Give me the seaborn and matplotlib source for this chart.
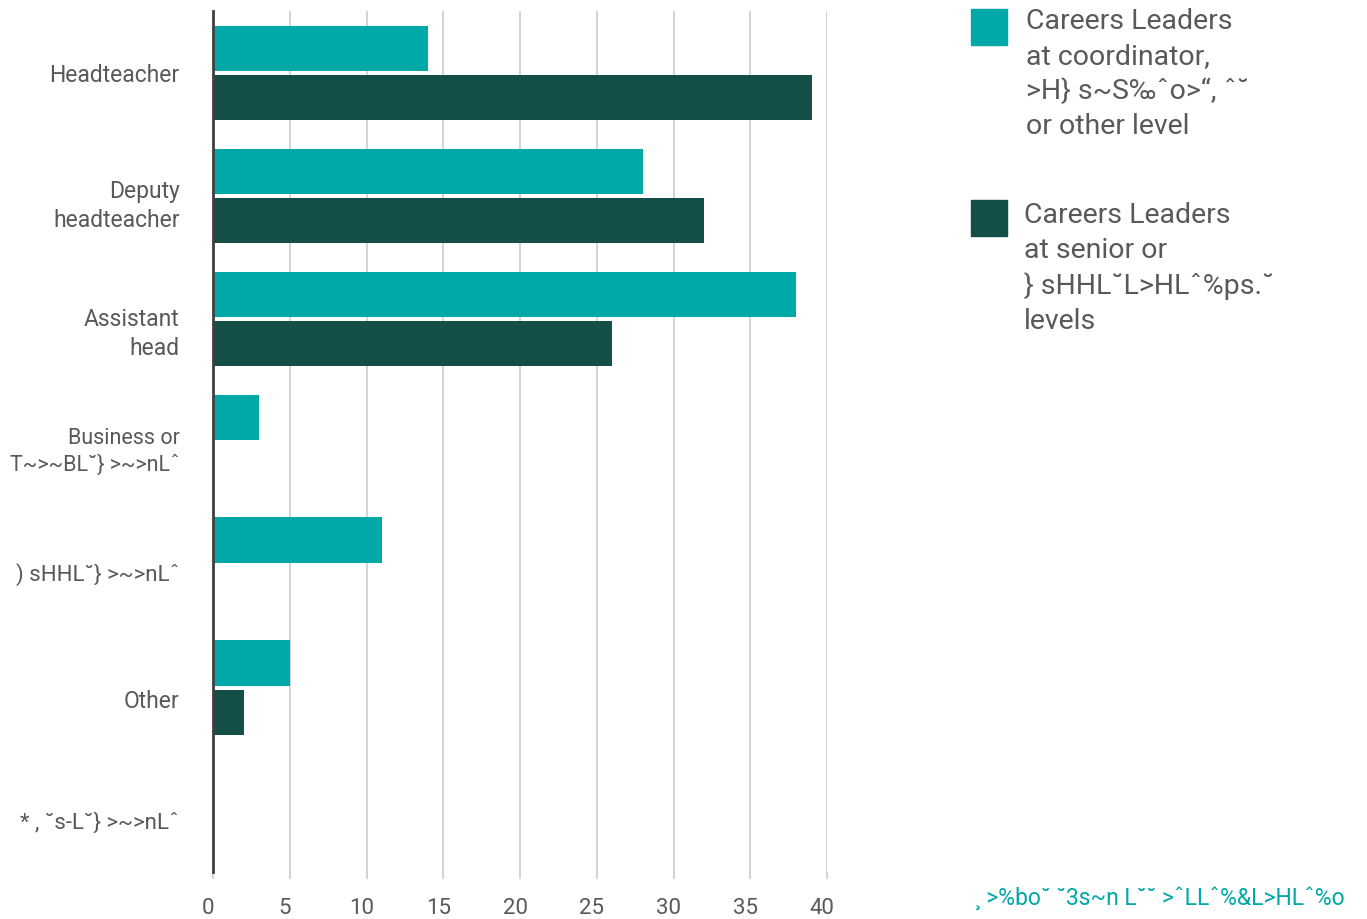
import matplotlib
matplotlib.use("Agg")
import matplotlib.pyplot as plt
from matplotlib.patches import Rectangle
from matplotlib.transforms import ScaledTranslation
import seaborn as sns
import pandas as pd

categories = ["Headteacher", "Deputy\nheadteacher", "Assistant\nhead",
              "Business or\nT~>~BL˘} >~>nLˆ", ") sHHL˘} >~>nLˆ", "Other",
              "* , ˘s-L˘} >~>nLˆ"]
series = ["Careers Leaders\nat coordinator,\n>H} s~S‰ˆo>“, ˆ˘\nor other level",
          "Careers Leaders\nat senior or\n} sHHL˘L>HLˆ%ps.˘\nlevels"]
coordinator_vals = [14, 28, 38, 3, 11, 5, 0]
senior_vals = [39, 32, 26, 0, 0, 2, 0]
xticks = [0, 5, 10, 15, 20, 25, 30, 35, 40]
footer = "¸ >%bo˘ ˘3s~n L˘˘ >ˆLLˆ%&L>HLˆ%o"

colors = ["#00A8A8", "#134F47"]
gray = "#595959"

df = pd.DataFrame({
    "category": categories * 2,
    "series": [series[0]] * len(categories) + [series[1]] * len(categories),
    "value": coordinator_vals + senior_vals,
})

sns.set_theme(style="white")
plt.rcParams["font.family"] = ["Roboto", "DejaVu Sans"]

fig = plt.figure(figsize=(13.67, 9.19), dpi=100)
ax = fig.add_axes([213 / 1367, 47 / 919, (827 - 213) / 1367, (872 - 11.5) / 919])

sns.barplot(data=df, y="category", x="value", hue="series", orient="h",
            order=categories, hue_order=series, palette=colors, saturation=1,
            width=0.8, gap=0.08, linewidth=0, legend=False, ax=ax)

ax.set_xlim(0, 40)
ax.set_ylim(6.5, -0.5)
ax.set_xticks(xticks)
ax.set_xticklabels([str(t) for t in xticks])
ax.set_xlabel("")
ax.set_ylabel("")
ax.xaxis.grid(True, color="#D0D0D0", linewidth=1.3)
ax.set_axisbelow(True)
for s in ["top", "right", "bottom"]:
    ax.spines[s].set_visible(False)
ax.spines["left"].set_color("#404040")
ax.spines["left"].set_linewidth(2)
ax.tick_params(axis="x", length=5, width=1.3, color="#D0D0D0", pad=14,
               labelsize=16, labelcolor=gray, bottom=True)
ax.tick_params(axis="y", length=0, pad=24, labelsize=16.5, labelcolor=gray)
label_shift = [0, 5, 10, 5, 7, 11, 10]
label_size = [16.5, 16.5, 16.5, 15.5, 16, 16.5, 16]
for lab, dy, fs in zip(ax.get_yticklabels(), label_shift, label_size):
    lab.set_multialignment("right")
    lab.set_linespacing(1.3)
    lab.set_fontsize(fs)
    lab.set_transform(lab.get_transform() +
                      ScaledTranslation(0, -dy / 100, fig.dpi_scale_trans))
off = ScaledTranslation(-5 / 100, 0, fig.dpi_scale_trans)
for lab in ax.get_xticklabels():
    lab.set_transform(lab.get_transform() + off)

# legend (manual, top-aligned)
W, H = 1367, 919
for (y0, x_txt, dy), col, lab in zip([(9, 1026, 0), (200, 1024, 3)], colors, series):
    fig.add_artist(Rectangle((971 / W, 1 - (y0 + 36) / H), 36 / W, 36 / H,
                             transform=fig.transFigure, color=col))
    fig.text(x_txt / W, 1 - (y0 - 1 + dy) / H, lab, ha="left", va="top",
             fontsize=20.5, color=gray, linespacing=1.38)

fig.text(975 / W, 1 - 898 / H, footer, ha="left", va="center",
         fontsize=16.5, color=colors[0])

fig.savefig("out.png", dpi=100)
